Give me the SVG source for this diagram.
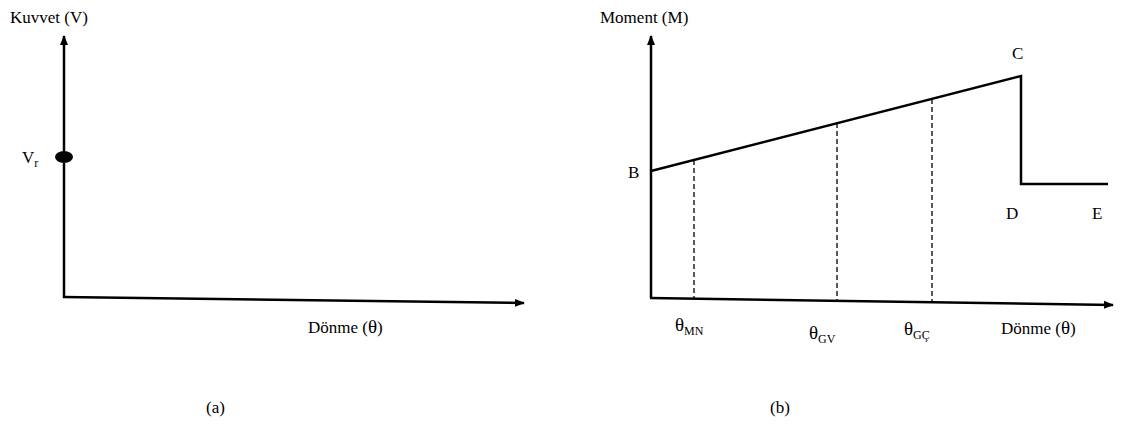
<svg xmlns="http://www.w3.org/2000/svg" width="1121" height="434" viewBox="0 0 1121 434">
<style>
text{font-family:"Liberation Serif","Times New Roman",serif;font-size:17px;fill:#000}
.sub{font-size:12px}
.th{font-size:19px}
.ax{stroke:#000;stroke-width:2.5;fill:none}
.dash{stroke:#000;stroke-width:1.3;stroke-dasharray:5,3;fill:none}
</style>
<defs>
<marker id="ah" viewBox="0 0 10 10" refX="9" refY="5" markerWidth="4" markerHeight="4" orient="auto" markerUnits="strokeWidth">
<path d="M0,1 L10,5 L0,9 z" fill="#000"/>
</marker>
</defs>
<rect width="1121" height="434" fill="#fff"/>
<g id="connectors">
<line class="ax" x1="64" y1="298" x2="64" y2="36" marker-end="url(#ah)"/>
<line class="ax" x1="63" y1="297" x2="524" y2="303" marker-end="url(#ah)"/>
<line class="ax" x1="651" y1="298" x2="651" y2="36" marker-end="url(#ah)"/>
<line class="ax" x1="650" y1="298" x2="1113" y2="305" marker-end="url(#ah)"/>
<polyline class="ax" points="651,171 1021,76 1021,184 1108,184"/>
<line class="dash" x1="694" y1="160" x2="694" y2="298"/>
<line class="dash" x1="837" y1="123" x2="837" y2="300"/>
<line class="dash" x1="932" y1="99" x2="932" y2="301"/>
</g>
<g id="chart-a">
<text x="10" y="23">Kuvvet (V)</text>
<ellipse id="vr-point" cx="64" cy="157" rx="9" ry="6" fill="#000"/>
<text x="22" y="163">V<tspan class="sub" dy="4">r</tspan></text>
<text x="308" y="333">Dönme (<tspan class="th">θ</tspan>)</text>
<text x="206" y="413">(a)</text>
</g>
<g id="chart-b">
<text x="600" y="23">Moment (M)</text>
<text x="628" y="178">B</text>
<text x="1012" y="59">C</text>
<text x="1006" y="219">D</text>
<text x="1092" y="219">E</text>
<text x="675" y="331"><tspan class="th">θ</tspan><tspan class="sub" dy="4">MN</tspan></text>
<text x="809" y="339"><tspan class="th">θ</tspan><tspan class="sub" dy="4">GV</tspan></text>
<text x="904" y="335"><tspan class="th">θ</tspan><tspan class="sub" dy="4">GÇ</tspan></text>
<text x="1001" y="334">Dönme (<tspan class="th">θ</tspan>)</text>
<text x="770" y="413">(b)</text>
</g>
</svg>
